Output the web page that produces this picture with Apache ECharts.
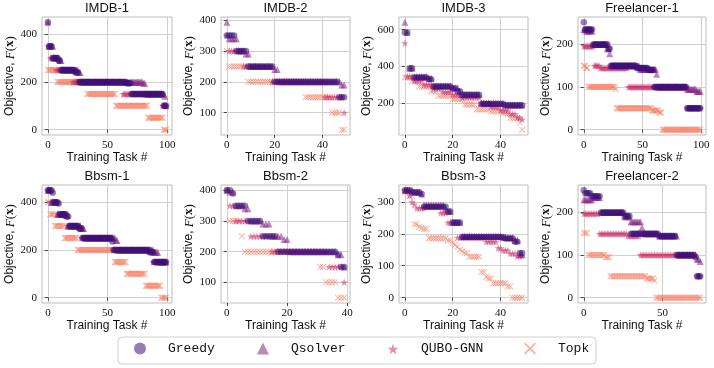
<!DOCTYPE html>
<html>
<head>
<meta charset="utf-8">
<script src="https://cdn.jsdelivr.net/npm/echarts@6/dist/echarts.min.js"></script>
<style>
html, body { margin: 0; padding: 0; background: #fff; }
#chart { width: 714px; height: 368px; }
</style>
</head>
<body>
<div id="chart"></div>
<script>
// panels, ticks and methods
const panelTitles = ['IMDB-1', 'IMDB-2', 'IMDB-3', 'Freelancer-1', 'Bbsm-1', 'Bbsm-2', 'Bbsm-3', 'Freelancer-2'];
const taskCounts = [100, 50, 50, 100, 100, 40, 50, 75];
const xTicks = [[0, 50, 100], [0, 20, 40], [0, 20, 40], [0, 50, 100], [0, 50, 100], [0, 20, 40], [0, 20, 40], [0, 50]];
const yTicks = [[0, 200, 400], [100, 200, 300, 400], [200, 400, 600], [0, 100, 200], [0, 200, 400], [100, 200, 300, 400], [0, 100, 200, 300], [0, 100, 200]];
const methods = ['Greedy', 'Qsolver', 'QUBO-GNN', 'Topk'];

// objective per training task (sorted), written as [value, number of tasks]
const imdb1Greedy = [[450,1],[350,3],[300,5],[290,2],[250,12],[240,3],[200,40],[195,4],[150,27],[100,3]];
const imdb1Qsolver = [[450,1],[350,4],[300,5],[290,2],[250,14],[240,2],[200,52],[195,2],[150,16],[140,1],[100,1]];
const imdb1Qubo = [[350,2],[300,5],[250,14],[200,42],[150,33],[100,4]];
const imdb1Topk = [[250,8],[200,25],[150,24],[100,27],[50,13],[0,3]];

const imdb2Greedy = [[350,4],[300,5],[250,11],[200,27],[150,3]];
const imdb2Qsolver = [[393,1],[340,4],[300,3],[290,2],[250,10],[240,2],[200,26],[190,2]];
const imdb2Qubo = [[350,1],[300,6],[250,12],[200,22],[150,8],[100,1]];
const imdb2Topk = [[300,1],[250,8],[200,24],[150,11],[100,4],[45,2]];

const imdb3Greedy = [[585,2],[390,2],[340,6],[330,2],[290,8],[280,2],[265,2],[245,8],[195,10],[188,8]];
const imdb3Qsolver = [[640,1],[585,1],[390,2],[345,6],[335,2],[295,8],[285,3],[260,1],[245,8],[200,10],[190,8]];
const imdb3Qubo = [[527,1],[345,3],[320,4],[300,4],[280,4],[260,4],[245,4],[230,8],[200,4],[180,4],[160,4],[140,3],[120,2],[110,1]];
const imdb3Topk = [[340,3],[320,3],[290,5],[265,3],[240,6],[222,5],[192,5],[165,6],[155,5],[145,3],[118,4],[95,1],[55,1]];

const free1Greedy = [[252,1],[235,7],[200,13],[190,2],[150,22],[145,10],[140,5],[100,28],[50,12]];
const free1Qsolver = [[235,2],[232,6],[200,12],[190,2],[178,1],[150,25],[142,14],[130,1],[100,25],[95,8],[90,4]];
const free1Qubo = [[196,9],[150,5],[145,24],[100,50],[50,12]];
const free1Topk = [[150,2],[145,2],[100,23],[95,1],[50,30],[45,6],[40,3],[0,33]];

const bbsm1Greedy = [[450,4],[440,1],[400,4],[395,1],[350,6],[340,2],[300,8],[290,3],[250,25],[235,1],[200,30],[190,4],[150,11]];
const bbsm1Qsolver = [[450,3],[400,5],[350,7],[345,2],[300,11],[290,3],[250,26],[240,2],[200,30],[190,4],[150,7]];
const bbsm1Qubo = [[450,2],[400,6],[350,8],[300,12],[250,27],[200,33],[150,12]];
const bbsm1Topk = [[400,2],[350,4],[300,8],[250,11],[200,31],[150,10],[100,16],[50,13],[0,5]];

const bbsm2Greedy = [[400,2],[390,1],[350,4],[300,5],[250,5],[200,20],[190,1],[150,2]];
const bbsm2Qsolver = [[400,1],[395,2],[350,3],[340,2],[300,4],[290,3],[250,4],[240,2],[200,16],[190,2],[150,1]];
const bbsm2Qubo = [[400,1],[350,2],[300,5],[250,7],[200,19],[150,5],[100,1]];
const bbsm2Topk = [[400,1],[300,4],[250,1],[200,25],[150,2],[100,4],[50,3]];

const bbsm3Greedy = [[336,3],[330,4],[325,1],[285,10],[270,2],[235,4],[190,18],[185,4],[175,2],[140,2]];
const bbsm3Qsolver = [[336,4],[330,3],[325,1],[290,9],[280,1],[270,2],[235,4],[192,17],[188,5],[180,2],[135,2]];
const bbsm3Qubo = [[336,2],[320,1],[300,1],[292,1],[280,4],[285,6],[265,3],[235,4],[188,12],[175,5],[155,2],[148,3],[138,3],[130,3]];
const bbsm3Topk = [[332,2],[318,2],[230,2],[222,1],[218,1],[215,2],[186,8],[180,2],[172,1],[165,1],[160,1],[150,1],[145,1],[140,2],[128,5],[80,2],[65,1],[60,2],[45,6],[35,2],[0,5]];

const free2Greedy = [[252,1],[245,4],[238,6],[200,15],[192,4],[150,18],[145,11],[100,12],[95,1],[50,3]];
const free2Qsolver = [[230,6],[235,5],[200,15],[190,4],[178,7],[165,1],[150,10],[145,12],[100,12],[90,2],[85,1]];
const free2Qubo = [[197,10],[150,18],[145,8],[100,36],[50,3]];
const free2Topk = [[152,3],[100,11],[95,3],[50,23],[45,5],[40,1],[0,29]];

// same order as methods
const panelRuns = [
	[imdb1Greedy, imdb1Qsolver, imdb1Qubo, imdb1Topk],
	[imdb2Greedy, imdb2Qsolver, imdb2Qubo, imdb2Topk],
	[imdb3Greedy, imdb3Qsolver, imdb3Qubo, imdb3Topk],
	[free1Greedy, free1Qsolver, free1Qubo, free1Topk],
	[bbsm1Greedy, bbsm1Qsolver, bbsm1Qubo, bbsm1Topk],
	[bbsm2Greedy, bbsm2Qsolver, bbsm2Qubo, bbsm2Topk],
	[bbsm3Greedy, bbsm3Qsolver, bbsm3Qubo, bbsm3Topk],
	[free2Greedy, free2Qsolver, free2Qubo, free2Topk]
];

function expand(runs) {
	const out = [];
	runs.forEach(([v, n]) => {
		for (let k = 0; k < n; k++) out.push(v);
	});
	return out;
}

// 5% margins like matplotlib
function padRange(lo, hi) {
	const d = (hi - lo) * 0.05;
	return [lo - d, hi + d];
}

const starPath = 'path://M10,0 L12.35,6.76 L19.51,6.91 L13.8,11.24 L15.88,18.09 L10,14 L4.12,18.09 L6.2,11.24 L0.49,6.91 L7.65,6.76 Z';
const crossPath = 'path://M0,1 L1,0 L10,9 L9,10 Z M9,0 L10,1 L1,10 L0,9 Z';

const methodStyle = {
	'Greedy': { symbol: 'circle', size: 6.5, legendSize: 12, color: 'rgb(62,16,120)', opacity: 0.55 },
	'Qsolver': { symbol: 'triangle', size: 7, legendSize: 12, color: 'rgb(135,38,132)', opacity: 0.55 },
	'QUBO-GNN': { symbol: starPath, size: 7.5, legendSize: 11, color: 'rgb(205,52,110)', opacity: 0.55 },
	'Topk': { symbol: crossPath, size: 6.5, legendSize: 12, color: 'rgb(248,122,95)', opacity: 0.6 }
};

const gridLefts = [42, 221, 399, 578];
const gridWidths = [130, 129, 129, 128];
const gridTops = [17, 185];
const gridHeight = 118;

const sansFont = 'Liberation Sans';
const serifFont = 'Liberation Serif';

const grids = [], xAxes = [], yAxes = [], titles = [], series = [];

panelTitles.forEach((title, p) => {
	const col = p % 4, row = Math.floor(p / 4);
	grids.push({
		left: gridLefts[col], top: gridTops[row], width: gridWidths[col], height: gridHeight,
		show: true, borderColor: '#bdbdbd', borderWidth: 1, backgroundColor: '#fff'
	});
	titles.push({
		text: title, left: gridLefts[col] + gridWidths[col] / 2, top: gridTops[row] - 15,
		textAlign: 'center', padding: 0,
		textStyle: { fontFamily: sansFont, fontSize: 13, fontWeight: 'normal', color: '#111' }
	});

	const values = panelRuns[p].map(expand);
	let lo = Infinity, hi = -Infinity;
	values.forEach(vs => vs.forEach(v => { lo = Math.min(lo, v); hi = Math.max(hi, v); }));
	const yr = padRange(lo, hi);
	const xr = padRange(0, taskCounts[p] - 1);

	xAxes.push({
		type: 'value', gridIndex: p, min: xr[0], max: xr[1],
		axisLine: { show: false },
		axisTick: { show: true, length: 3, customValues: xTicks[p], lineStyle: { color: '#444' } },
		axisLabel: { customValues: xTicks[p], margin: 5, fontFamily: serifFont, fontSize: 11, color: '#111' },
		splitLine: { show: true, lineStyle: { color: '#cfcfcf', width: 1 } },
		name: 'Training Task #', nameLocation: 'middle', nameGap: 17,
		nameTextStyle: { fontFamily: sansFont, fontSize: 12, color: '#111' }
	});
	yAxes.push({
		type: 'value', gridIndex: p, min: yr[0], max: yr[1],
		axisLine: { show: false },
		axisTick: { show: true, length: 3, customValues: yTicks[p], lineStyle: { color: '#444' } },
		axisLabel: { customValues: yTicks[p], margin: 5, fontFamily: serifFont, fontSize: 11, color: '#111' },
		splitLine: { show: true, lineStyle: { color: '#cfcfcf', width: 1 } },
		name: '{s|Objective, }{i|F}{m|(}{b|x}{m|)}', nameLocation: 'middle', nameGap: 24, nameRotate: 90,
		nameTextStyle: {
			rich: {
				s: { fontFamily: sansFont, fontSize: 12, color: '#111' },
				i: { fontFamily: serifFont, fontStyle: 'italic', fontSize: 13, color: '#111' },
				m: { fontFamily: serifFont, fontSize: 13, color: '#111' },
				b: { fontFamily: serifFont, fontWeight: 'bold', fontSize: 13, color: '#111' }
			}
		}
	});

	// draw Topk first so Greedy sits on top
	[3, 2, 1, 0].forEach(m => {
		const name = methods[m];
		const st = methodStyle[name];
		series.push({
			type: 'scatter', name: name, xAxisIndex: p, yAxisIndex: p,
			symbol: st.symbol, symbolSize: st.size,
			itemStyle: { color: st.color, opacity: st.opacity },
			emphasis: { disabled: true },
			data: values[m].map((v, i) => [i, v])
		});
	});
});

// one legend per method so they can be placed like the original
const legendIconCenters = [140, 263, 393, 530];
const legends = methods.map((name, k) => {
	const s = methodStyle[name].legendSize;
	return {
		data: [{ name: name, icon: methodStyle[name].symbol }],
		left: legendIconCenters[k] - s / 2, top: 348 - s / 2, padding: 0,
		itemWidth: s, itemHeight: s, selectedMode: false,
		textStyle: { fontFamily: 'Liberation Mono', fontSize: 13, color: '#111', padding: [0, 0, 0, 28 - s / 2 - 5] }
	};
});

const chart = echarts.init(document.getElementById('chart'));
chart.setOption({
	animation: false,
	backgroundColor: '#fff',
	title: titles,
	grid: grids,
	xAxis: xAxes,
	yAxis: yAxes,
	legend: legends,
	graphic: [{
		type: 'rect', silent: true, z: -10,
		shape: { x: 118, y: 337, width: 478, height: 27, r: 4 },
		style: { fill: '#fff', stroke: '#d0d0d0', lineWidth: 1 }
	}],
	series: series
});
</script>
</body>
</html>
